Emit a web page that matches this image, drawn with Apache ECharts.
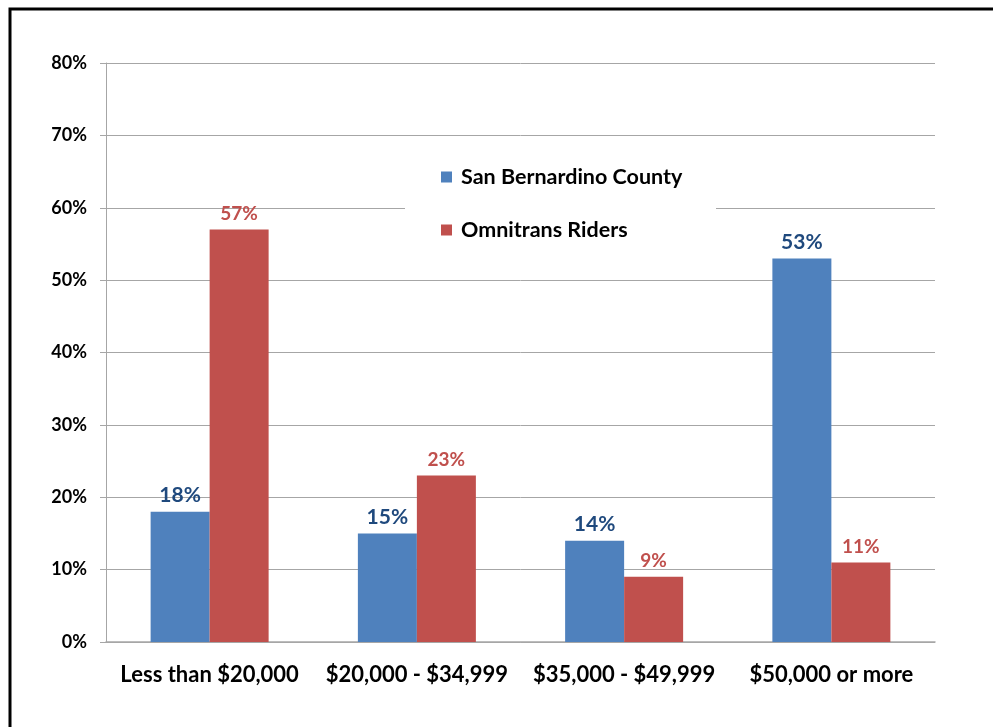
<!DOCTYPE html>
<html>
<head>
<meta charset="utf-8">
<script src="https://cdn.jsdelivr.net/npm/echarts@6/dist/echarts.min.js"></script>
<style>html,body{margin:0;padding:0;background:#fff;}#c{width:993px;height:727px;}</style>
</head>
<body>
<div id="c"></div>
<script>
const categories = ['Less than $20,000', '$20,000 - $34,999', '$35,000 - $49,999', '$50,000 or more'];
const countyValues = [18, 15, 14, 53];
const riderValues = [57, 23, 9, 11];
const seriesNames = ['San Bernardino County', 'Omnitrans Riders'];

const FONT = 'Lato, "Open Sans", sans-serif';
const chart = echarts.init(document.getElementById('c'));
chart.setOption({
  animation: false,
  backgroundColor: '#fff',
  grid: { left: 106, right: 58, top: 63, bottom: 85 },
  graphic: [
    { type: 'rect', z: 100, silent: true, shape: { x: 10, y: 9, width: 1100, height: 900 },
      style: { fill: 'none', stroke: '#000', lineWidth: 3 } },
    { type: 'rect', z: 1, silent: true, shape: { x: 405, y: 150, width: 311, height: 100 },
      style: { fill: '#fff' } }
  ],
  legend: {
    orient: 'vertical', left: 436, top: 161, itemGap: 31, z: 5,
    itemWidth: 11, itemHeight: 11, icon: 'rect',
    textStyle: { fontFamily: FONT, fontWeight: 'bold', fontSize: 21.5, color: '#000', padding: [0, 0, 0, 4] },
    data: seriesNames
  },
  xAxis: {
    type: 'category', data: categories,
    axisLine: { lineStyle: { color: '#a6a6a6', width: 1.5 } },
    axisTick: { show: false },
    axisLabel: { interval: 0, hideOverlap: false, margin: 22, fontFamily: FONT, fontWeight: 'bold', fontSize: 22, color: '#000' }
  },
  yAxis: {
    type: 'value', min: 0, max: 80, interval: 10,
    axisLine: { show: true, lineStyle: { color: '#a6a6a6' } },
    axisTick: { show: true, length: 6, lineStyle: { color: '#a6a6a6' } },
    splitLine: { lineStyle: { color: '#a6a6a6', width: 1 } },
    axisLabel: { margin: 19, formatter: '{value}%', fontFamily: FONT, fontWeight: 'bold', fontSize: 18, color: '#000' }
  },
  series: [
    { name: seriesNames[0], type: 'bar', data: countyValues, barWidth: 59, barGap: '0%', z: 2,
      itemStyle: { color: '#4F81BD' },
      label: { show: true, position: 'top', distance: 6, formatter: '{c}%', fontFamily: FONT, fontWeight: 'bold', fontSize: 21, color: '#1F497D' } },
    { name: seriesNames[1], type: 'bar', data: riderValues, barWidth: 59, barGap: '0%', z: 2,
      itemStyle: { color: '#C0504D' },
      label: { show: true, position: 'top', distance: 6, formatter: '{c}%', fontFamily: FONT, fontWeight: 'bold', fontSize: 19, color: '#C0504D' } }
  ]
});
</script>
</body>
</html>
